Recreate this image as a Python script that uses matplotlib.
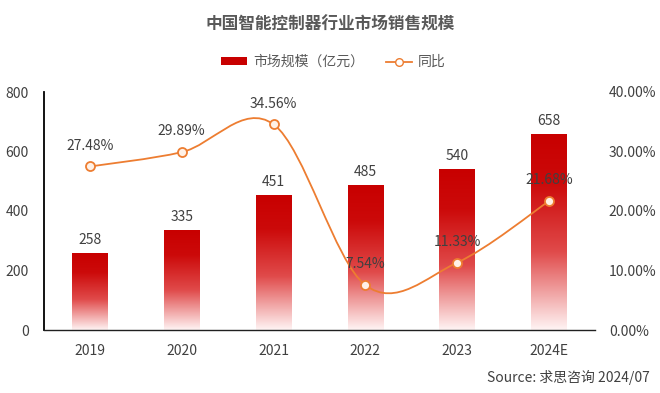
import numpy as np
import matplotlib
matplotlib.use("Agg")
import matplotlib.pyplot as plt
from matplotlib.colors import LinearSegmentedColormap
from matplotlib.patches import Patch, PathPatch
from matplotlib.lines import Line2D
from matplotlib.path import Path

plt.rcParams['font.family'] = ['Noto Sans CJK SC', 'DejaVu Sans']

# data
years = ["2019", "2020", "2021", "2022", "2023", "2024E"]
market_size = [258, 335, 451, 485, 540, 658]          # 亿元
yoy = [27.48, 29.89, 34.56, 7.54, 11.33, 21.68]        # %

text_col = "#404040"
line_col = "#ED7D31"

fig = plt.figure(figsize=(6.6, 3.93), dpi=100)
ax = fig.add_axes([44/660, 1-330/393, 551/660, 238/393])

x = np.arange(len(years))
bars = ax.bar(x, market_size, width=0.39, color="none", edgecolor="none", zorder=2)

# gradient fill for each bar: dark red at top, almost white at bottom
cmap = LinearSegmentedColormap.from_list(
    "redfade", [(0, "#FFF4F4"), (0.4, "#E04A4A"), (0.75, "#CC0A0A"), (1, "#C80000")])
grad = np.linspace(0, 1, 256).reshape(-1, 1)
for b in bars:
    x0, w, h = b.get_x(), b.get_width(), b.get_height()
    ax.imshow(grad, extent=[x0, x0 + w, 0, h], origin="lower", aspect="auto",
              cmap=cmap, zorder=2)

for xi, v in zip(x, market_size):
    ax.text(xi, v + 22, str(v), ha="center", va="bottom", fontsize=10, color=text_col, zorder=5)

ax.set_xlim(-0.5, len(years) - 0.5)
ax.set_ylim(0, 800)
ax.set_yticks([0, 200, 400, 600, 800])
ax.set_xticks(x)
ax.set_xticklabels(years)
ax.tick_params(length=0, labelsize=10, labelcolor=text_col)
ax.tick_params(axis="x", pad=10)
ax.tick_params(axis="y", pad=11)
for s in ["top", "right"]:
    ax.spines[s].set_visible(False)
ax.spines["left"].set_color("#000000")
ax.spines["left"].set_linewidth(1.3)
ax.spines["bottom"].set_color("#202020")
ax.spines["bottom"].set_linewidth(1.0)

# growth rate on secondary axis, smoothed like a spreadsheet line
ax2 = ax.twinx()
ax2.set_ylim(0, 40)
ax2.set_yticks([0, 10, 20, 30, 40])
ax2.set_yticklabels([f"{t:.2f}%" for t in [0, 10, 20, 30, 40]])
ax2.tick_params(length=0, labelsize=10, labelcolor=text_col, pad=10)
for s in ax2.spines.values():
    s.set_visible(False)

verts = [(x[0], yoy[0])]
codes = [Path.MOVETO]
n = len(yoy)
for i in range(n - 1):
    p_prev = yoy[i - 1] if i > 0 else yoy[i]
    x_prev = x[i - 1] if i > 0 else x[i]
    p_next2 = yoy[i + 2] if i + 2 < n else yoy[i + 1]
    x_next2 = x[i + 2] if i + 2 < n else x[i + 1]
    c1 = (x[i] + (x[i + 1] - x_prev) / 6, yoy[i] + (yoy[i + 1] - p_prev) / 6)
    c2 = (x[i + 1] - (x_next2 - x[i]) / 6, yoy[i + 1] - (p_next2 - yoy[i]) / 6)
    verts += [c1, c2, (x[i + 1], yoy[i + 1])]
    codes += [Path.CURVE4] * 3
ax2.add_patch(PathPatch(Path(verts, codes), facecolor="none", edgecolor=line_col,
                        linewidth=1.3, zorder=3))
ax2.plot(x, yoy, linestyle="none", marker="o", markersize=6.5,
         markerfacecolor="#FFF1E6", markeredgecolor=line_col, markeredgewidth=1.3, zorder=4)
for xi, v in zip(x, yoy):
    ax2.text(xi, v + 2.3, f"{v:.2f}%", ha="center", va="bottom", fontsize=10,
             color=text_col, zorder=5)

fig.text(0.5, 1 - 25/393, "中国智能控制器行业市场销售规模", ha="center", va="center",
         fontsize=12, fontweight="bold", color="#595959")

handles = [Patch(facecolor="#C80000", edgecolor="none"),
           Line2D([0], [0], color=line_col, lw=1.3, marker="o", markersize=5.5,
                  markerfacecolor="white", markeredgecolor=line_col)]
fig.legend(handles, ["市场规模（亿元）", "同比"], loc="center", ncol=2,
           bbox_to_anchor=(0.505, 1 - 62/393), frameon=False, fontsize=10,
           labelcolor="#595959", handlelength=1.9, handleheight=0.45,
           columnspacing=1.6, handletextpad=0.4)

fig.text(1 - 10/660, 1 - 377/393, "Source: 求思咨询 2024/07", ha="right", va="center",
         fontsize=10, color=text_col)

fig.savefig("out.png", dpi=100)
